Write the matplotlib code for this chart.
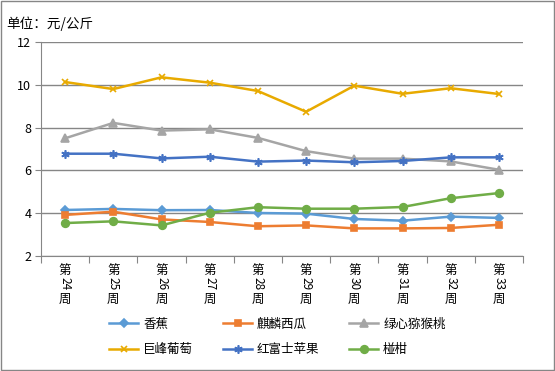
import matplotlib.pyplot as plt
from matplotlib.transforms import blended_transform_factory

plt.rcParams['font.family'] = ['Noto Sans CJK SC', 'DejaVu Sans']

# --- data ---
weeks = ["24", "25", "26", "27", "28", "29", "30", "31", "32", "33"]
banana = [4.15, 4.20, 4.14, 4.15, 4.01, 3.98, 3.73, 3.65, 3.84, 3.78]
watermelon = [3.92, 4.07, 3.71, 3.59, 3.39, 3.43, 3.29, 3.29, 3.31, 3.46]
kiwi = [7.50, 8.22, 7.86, 7.92, 7.52, 6.90, 6.55, 6.55, 6.42, 6.03]
grape = [10.13, 9.80, 10.35, 10.10, 9.71, 8.74, 9.96, 9.58, 9.84, 9.57]
apple = [6.78, 6.78, 6.56, 6.64, 6.41, 6.46, 6.38, 6.44, 6.61, 6.61]
orange = [3.54, 3.62, 3.43, 4.02, 4.28, 4.21, 4.21, 4.29, 4.70, 4.94]

series = [
    ("香蕉", banana, "#5B9BD5", "D", 4),
    ("麒麟西瓜", watermelon, "#ED7D31", "s", 5),
    ("绿心猕猴桃", kiwi, "#A5A5A5", "^", 5.5),
    ("巨峰葡萄", grape, "#E8AA00", "x", 5),
    ("红富士苹果", apple, "#4472C4", (6, 2, 0), 6),
    ("椪柑", orange, "#70AD47", "o", 5.5),
]

fig = plt.figure(figsize=(5.55, 3.71), dpi=100)
ax = fig.add_axes([41 / 555, 1 - 256 / 371, 482 / 555, 214 / 371])

x = list(range(len(weeks)))
handles = {}
for name, vals, color, marker, ms in series:
    line, = ax.plot(x, vals, color=color, linewidth=1.8, marker=marker,
                    markersize=ms, markeredgewidth=1.2, label=name, zorder=3)
    handles[name] = line

gray = "#868686"
ax.set_xlim(-0.5, len(weeks) - 0.5)
ax.set_ylim(2, 12)
ax.set_yticks([2, 4, 6, 8, 10, 12])
ax.grid(axis='y', color=gray, linewidth=1)
ax.set_axisbelow(True)
for side in ["top", "right"]:
    ax.spines[side].set_visible(False)
ax.spines["left"].set_color(gray)
ax.spines["bottom"].set_color(gray)
ax.tick_params(axis='y', length=4, color=gray, labelsize=9, pad=3)

# category boundary ticks on x, labels drawn vertically below
ax.set_xticks([i - 0.5 for i in range(len(weeks) + 1)])
ax.set_xticklabels([])
ax.tick_params(axis='x', length=5, color=gray)

trans = blended_transform_factory(ax.transData, ax.transAxes)
for i, wk in enumerate(weeks):
    ax.annotate("第", xy=(i, 0), xycoords=trans, xytext=(0, -6),
                textcoords='offset points', ha='center', va='top', fontsize=9)
    ax.annotate(wk, xy=(i, 0), xycoords=trans, xytext=(0, -15),
                textcoords='offset points', ha='center', va='top',
                fontsize=8.5, rotation=-90)
    ax.annotate("周", xy=(i, 0), xycoords=trans, xytext=(0, -26.5),
                textcoords='offset points', ha='center', va='top', fontsize=9)

fig.text(6 / 555, 1 - 24 / 371, "单位：元/公斤", fontsize=9.8, va='center', ha='left')

order = ["香蕉", "巨峰葡萄", "麒麟西瓜", "红富士苹果", "绿心猕猴桃", "椪柑"]
fig.legend([handles[n] for n in order], order, ncol=3, frameon=False,
           loc='center', bbox_to_anchor=(0.5, 1 - 337 / 371), fontsize=9,
           handlelength=2.3, handletextpad=0.4, columnspacing=2.4,
           labelspacing=1.0)

# outer border
fig.patches.append(plt.Rectangle((0.002, 0.003), 0.996, 0.994, transform=fig.transFigure,
                                 fill=False, edgecolor="#868686", linewidth=1))

plt.savefig("out.png", dpi=100)
